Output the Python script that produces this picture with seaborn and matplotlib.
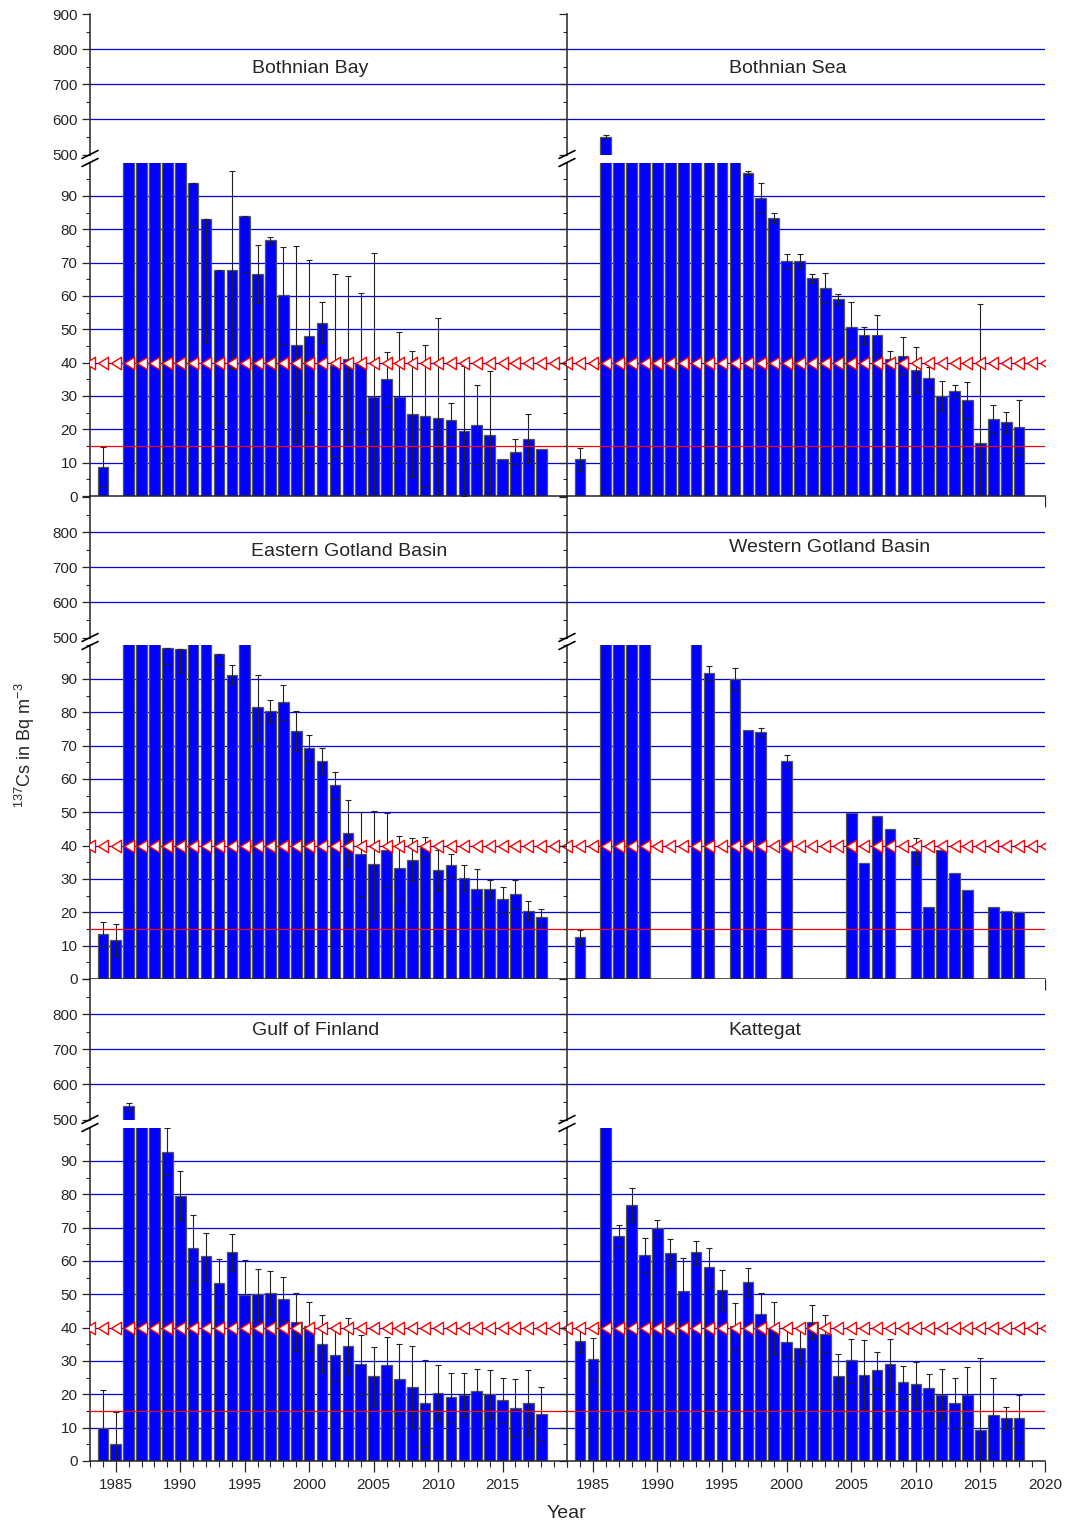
import numpy as np
import pandas as pd
import matplotlib
matplotlib.use("Agg")
import matplotlib.pyplot as plt
import seaborn as sns
from matplotlib.lines import Line2D
from matplotlib.ticker import MultipleLocator

sns.set_style("ticks")
plt.rcParams['font.family'] = ['Liberation Sans', 'DejaVu Sans']
plt.rcParams['mathtext.fontset'] = 'custom'
plt.rcParams['mathtext.rm'] = 'Liberation Sans'
plt.rcParams['mathtext.default'] = 'regular'

nan = np.nan
years = list(range(1984, 2019))

# Bothnian Bay
bb_val = [8.8, nan, 320, 260, 190, 150, 120, 93.8, 83, 67.8, 67.8, 84, 66.7, 76.7, 60.2, 45.4, 47.9, 52,
          39.3, 41.1, 39.8, 29.8, 35, 29.7, 24.6, 24.1, 23.5, 22.9, 19.5, 21.3, 18.4, 11, 13.3, 17.2, 14.2]
bb_err = [5.9, nan, nan, nan, nan, nan, nan, 12.8, 37, 45.5, 29.6, 16.7, 8.7, 1, 14.6, 29.6, 23, 6.2,
          27.2, 25, 21, 43, 8.3, 19.6, 19, 21.3, 29.8, 5, 19.4, 11.9, 19, nan, 3.7, 7.4, nan]

# Bothnian Sea
bs_val = [11, nan, 551, 420, 390, 330, 280, 240, 200, 170, 145, 125, 108, 96.9, 89.4, 83.4, 70.6, 70.6,
          65.3, 62.4, 59, 50.8, 48.2, 48.2, 41.1, 42, 37.8, 35.3, 29.9, 31.5, 28.7, 15.9, 23.2, 22.1, 20.7]
bs_err = [3.4, nan, 4, nan, nan, nan, nan, nan, nan, nan, nan, nan, nan, 0.5, 4.6, 1.6, 2.1, 2.1,
          1.4, 4.6, 1.5, 7.3, 2.5, 6, 2.5, 5.6, 7, 3.3, 4.5, 1.9, 5.5, 41.7, 4.2, 3.2, 8.2]

# Eastern Gotland Basin
egb_val = [13.4, 11.6, 180, 230, 160, 99.2, 98.9, 105, 102, 97.5, 91.3, 103, 81.5, 80.4, 83, 74.4, 69.3, 65.4,
           58.1, 43.8, 37.5, 34.4, 38.8, 33.3, 35.8, 39.6, 32.7, 34.1, 30.2, 27.1, 27.1, 23.9, 25.6, 20.5, 18.6]
egb_err = [3.6, 4.8, nan, nan, nan, 5.1, 6.8, nan, nan, 3.1, 2.8, nan, 9.7, 3.3, 5.2, 6.1, 3.9, 3.8,
           4.1, 10, 12.6, 16, 10.9, 9.6, 6.4, 2.9, 6, 3.5, 3.9, 5.9, 2.7, 3.7, 4.2, 2.8, 2.4]

# Western Gotland Basin
wgb_val = [12.5, nan, 200, 250, 180, 150, nan, nan, nan, 110, 91.9, nan, 90, 74.8, 74.2, nan, 65.4, nan,
           nan, nan, nan, 49.7, 34.7, 48.8, 44.9, nan, 38.4, 21.7, 38.8, 31.9, 26.8, nan, 21.7, 20.5, 20.2]
wgb_err = [2.1, nan, nan, nan, nan, nan, nan, nan, nan, nan, 2.1, nan, 3.4, nan, 1.2, nan, 1.8, nan,
           nan, nan, nan, nan, nan, nan, nan, nan, 4, nan, nan, nan, nan, nan, nan, nan, nan]

# Gulf of Finland
gof_val = [10, 5.1, 538, 300, 200, 92.8, 79.6, 64, 61.4, 53.5, 62.6, 49.8, 50, 50.4, 48.6, 41.6, 40.5, 35.2,
           31.8, 34.4, 29, 25.4, 28.7, 24.5, 22.2, 17.4, 20.5, 19.1, 19.8, 21.1, 20, 18.2, 15.9, 17.4, 14.1]
gof_err = [11.3, 9.7, 10, nan, nan, 7.0, 7.4, 9.7, 7.1, 7.1, 5.6, 10.5, 7.7, 6.6, 6.6, 8.7, 7.2, 8.5,
           7.9, 8.4, 8.8, 8.8, 8.5, 10.7, 12.4, 13, 8.2, 7.4, 6.7, 6.4, 7.3, 6.7, 8.6, 10, 8.1]

# Kattegat
kat_val = [36.1, 30.5, 160, 67.5, 76.8, 61.7, 69.8, 62.3, 50.9, 62.6, 58.2, 51.2, 40.4, 53.7, 44.1, 39.9, 35.8, 33.8,
           41.6, 38.1, 25.6, 30.2, 25.9, 27.2, 29, 23.6, 23, 21.9, 19.9, 17.4, 19.9, 9.2, 13.8, 12.8, 12.8]
kat_err = [3.5, 6.5, nan, 3.3, 5.1, 5.3, 2.5, 4.3, 9.9, 3.4, 5.7, 6, 7, 4.1, 6.4, 7.7, 4.7, 5.4,
           5.1, 5.6, 6.6, 6.4, 10.5, 5.4, 7.7, 4.8, 6.6, 4.1, 7.7, 7.4, 8.3, 21.8, 11, 3.3, 7]

limit_level = 15
marker_level = 40
marker_years = np.arange(1983, 2021)

panels = [
    ("Bothnian Bay", bb_val, bb_err, 0, 0, (0.461, 0.610)),
    ("Bothnian Sea", bs_val, bs_err, 0, 1, (0.462, 0.610)),
    ("Eastern Gotland Basin", egb_val, egb_err, 1, 0, (0.543, 0.615)),
    ("Western Gotland Basin", wgb_val, wgb_err, 1, 1, (0.550, 0.643)),
    ("Gulf of Finland", gof_val, gof_err, 2, 0, (0.472, 0.636)),
    ("Kattegat", kat_val, kat_err, 2, 1, (0.414, 0.636)),
]

W, H = 1069, 1528
COL_X = [90, 567]
COL_W = [477, 478]
ROW_ZERO = [496, 979, 1461]
UPPER_H = 140.5
LOWER_H = 333.5
ROW_H = 482

fig = plt.figure(figsize=(W / 100, H / 100), dpi=100)


def px_rect(x0, y0, w, h):  # pixel box (y down) -> figure fraction
    return [x0 / W, 1 - (y0 + h) / H, w / W, h / H]


def slash(x, y):  # small break mark on the y axis
    fig.add_artist(Line2D([(x - 8) / W, (x + 8) / W], [1 - (y + 4) / H, 1 - (y - 4) / H],
                          transform=fig.transFigure, color="black", lw=1.2))


tri_left = [(-0.8, 0), (0.8, 1), (0.8, -1), (-0.8, 0)]

for name, vals, errs, row, col, txy in panels:
    x0, w = COL_X[col], COL_W[col]
    zero = ROW_ZERO[row]
    top = zero - ROW_H
    ax_up = fig.add_axes(px_rect(x0, top, w, UPPER_H))
    ax_lo = fig.add_axes(px_rect(x0, zero - LOWER_H, w, LOWER_H))

    df = pd.DataFrame({"year": years, "value": vals, "err": errs}).dropna(subset=["value"])
    e = df.dropna(subset=["err"])

    for ax, (y0, y1), grid in ((ax_up, (500, 900), [600, 700, 800]),
                               (ax_lo, (0, 100), list(range(10, 100, 10)))):
        for g in grid:
            ax.axhline(g, color="#0000ee", lw=0.9, zorder=0)
        sns.barplot(data=df, x="year", y="value", native_scale=True, width=0.82,
                    color="#0000ff", saturation=1, edgecolor="#555555", linewidth=0.9,
                    errorbar=None, ax=ax, zorder=2)
        # Origin drops the plus arm when it runs past the axis end
        up = np.where(e["value"] + e["err"] > y1, 0, e["err"])
        ax.errorbar(e["year"], e["value"], yerr=[e["err"], up], fmt="none", ecolor="#222222",
                    elinewidth=0.8, capsize=2.5, capthick=0.8, zorder=3)
        ax.set_xlim(1983, 2020)
        ax.set_ylim(y0, y1)
        ax.set_xlabel("")
        ax.set_ylabel("")
        ax.spines["top"].set_visible(False)
        ax.spines["right"].set_visible(False)
        ax.spines["left"].set_linewidth(1.1)
        ax.spines["bottom"].set_linewidth(1.1)
        ax.tick_params(which="major", direction="out", length=6, width=0.9, labelsize=11, pad=3)
        ax.tick_params(which="minor", direction="out", length=3, width=0.8)

    ax_lo.axhline(limit_level, color="#ff0000", lw=0.9, zorder=4)
    ax_lo.plot(marker_years, [marker_level] * len(marker_years), linestyle="none",
               marker=tri_left, ms=9, mfc="white", mec="#ff0000", mew=1.0, zorder=4)

    # upper part: no x axis
    ax_up.spines["bottom"].set_visible(False)
    ax_up.tick_params(axis="x", which="both", bottom=False, labelbottom=False)
    ax_up.yaxis.set_minor_locator(MultipleLocator(50))
    ax_up.set_yticks([500, 600, 700, 800, 900])
    ax_up.set_yticklabels(["500", "600", "700", "800", "900" if row == 0 else ""])

    ax_lo.set_yticks(range(0, 100, 10))
    ax_lo.yaxis.set_minor_locator(MultipleLocator(5))
    ax_lo.set_xticks(range(1985, 2021 if col == 1 else 2016, 5))
    ax_lo.xaxis.set_minor_locator(MultipleLocator(1))
    ax_lo.tick_params(axis="x", which="major", length=8, pad=4)
    ax_lo.tick_params(axis="x", which="minor", length=4)
    if row != 2:
        ax_lo.tick_params(axis="x", labelbottom=False)
    if col == 1:
        ax_up.tick_params(axis="y", labelleft=False)
        ax_lo.tick_params(axis="y", labelleft=False)

    ax_up.text(txy[0], txy[1], name, transform=ax_up.transAxes, ha="center", va="center", fontsize=14)

    slash(x0, top + UPPER_H)
    slash(x0, zero - LOWER_H)

fig.text(25 / W, 1 - 745 / H, r"$^{137}$Cs in Bq m$^{-3}$", rotation=90, ha="center", va="center", fontsize=13)
fig.text(566 / W, 1 - 1513 / H, "Year", ha="center", va="center", fontsize=14)

fig.savefig("out.png", dpi=100)
